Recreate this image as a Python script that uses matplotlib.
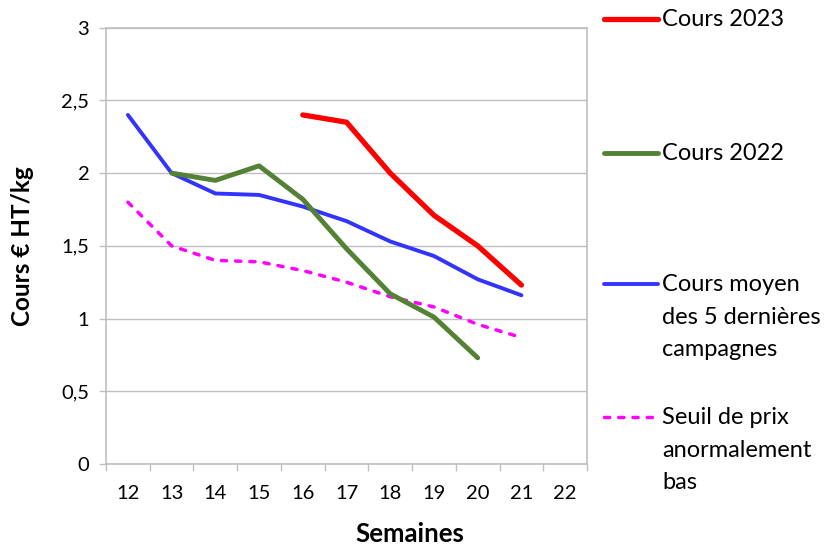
import matplotlib
matplotlib.use("Agg")
import matplotlib.pyplot as plt
from matplotlib.lines import Line2D
import numpy as np

plt.rcParams['font.family'] = ['Lato', 'DejaVu Sans']

# semaines (axe de categories)
semaines = [12, 13, 14, 15, 16, 17, 18, 19, 20, 21, 22]

# cours par semaine (None = pas de valeur)
cours_2023 = [None, None, None, None, 2.40, 2.35, 2.00, 1.71, 1.50, 1.23, None]
cours_2022 = [None, 2.00, 1.95, 2.05, 1.82, 1.48, 1.17, 1.01, 0.73, None, None]
cours_moyen = [2.40, 2.00, 1.86, 1.85, 1.77, 1.67, 1.53, 1.43, 1.27, 1.16, None]
seuil_bas = [1.80, 1.50, 1.40, 1.39, 1.33, 1.25, 1.15, 1.08, 0.96, 0.87, None]

yticks = [0, 0.5, 1, 1.5, 2, 2.5, 3]
ytick_labels = ["0", "0,5", "1", "1,5", "2", "2,5", "3"]

def arr(v):
    return np.array([np.nan if x is None else x for x in v], dtype=float)

grey = '#BFBFBF'
fig = plt.figure(figsize=(8.31, 5.46), dpi=100)
ax = fig.add_axes([0.1276, 0.1502, 0.5788, 0.7991])

x = np.arange(len(semaines))
ax.plot(x, arr(seuil_bas), color='#FF00FF', lw=2.5, dashes=(1.5, 2.6),
        dash_capstyle='round', zorder=3)
ax.plot(x, arr(cours_moyen), color='#3333FF', lw=2.8, solid_capstyle='round', zorder=4)
ax.plot(x, arr(cours_2022), color='#548235', lw=3.5, solid_capstyle='round', zorder=5)
ax.plot(x, arr(cours_2023), color='#FF0000', lw=3.8, solid_capstyle='round', zorder=6)

ax.set_xlim(-0.5, len(semaines) - 0.5)
ax.set_ylim(0, 3)
ax.set_yticks(yticks)
ax.set_yticklabels(ytick_labels, fontsize=14.5)
ax.set_xticks(x)
ax.set_xticklabels([str(s) for s in semaines], fontsize=14.5)
ax.tick_params(axis='x', length=0, pad=15)
ax.set_xticks(np.arange(-0.5, len(semaines)), minor=True)
ax.tick_params(axis='x', which='minor', length=5, color=grey, width=1)
ax.tick_params(axis='y', length=5, color=grey, width=1, pad=7)
ax.grid(axis='y', color=grey, lw=1)
ax.set_axisbelow(True)
for s in ax.spines.values():
    s.set_color(grey)
    s.set_linewidth(1.2)

ax.set_ylabel("Cours € HT/kg", fontsize=17.5, fontweight='bold', labelpad=20)
ax.set_xlabel("Semaines", fontsize=18.5, fontweight='bold', va='center')
ax.xaxis.set_label_coords(0.632, -0.161)

# legende a droite, facon Excel
legend_items = [
    ("Cours 2023", '#FF0000', 3.8, None, 19),
    ("Cours 2022", '#548235', 3.5, None, 153),
    ("Cours moyen\ndes 5 dernières\ncampagnes", '#3333FF', 2.8, None, 284),
    ("Seuil de prix\nanormalement\nbas", '#FF00FF', 2.5, (1.5, 2.6), 417),
]
W, H = 831, 546
for label, col, lw, dash, ypx in legend_items:
    yf = 1 - ypx / H
    ln = Line2D([604 / W, 658 / W], [yf, yf], transform=fig.transFigure,
                color=col, lw=lw, solid_capstyle='round', dash_capstyle='round')
    if dash:
        ln.set_dashes(dash)
    fig.add_artist(ln)
    fig.text(662 / W, yf + 10 / H, label, fontsize=17, va='top', ha='left',
             linespacing=1.68)

fig.savefig("out.png", dpi=100)
